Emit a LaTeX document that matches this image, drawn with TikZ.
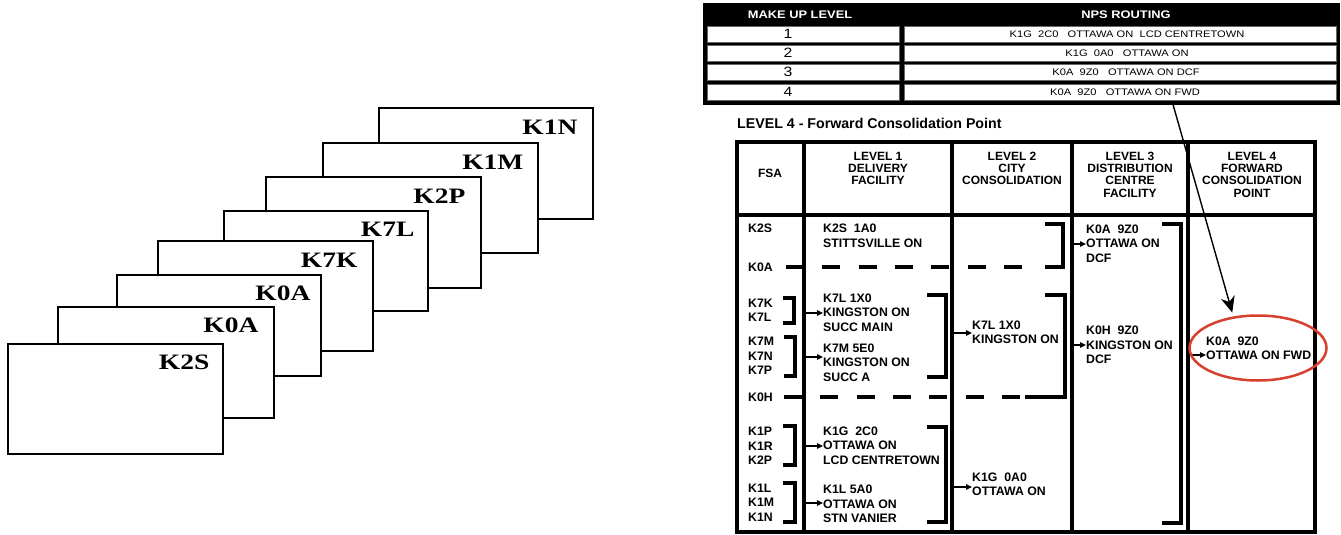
\documentclass[tikz,border=0pt]{standalone}
\usepackage{fontspec}
\setmainfont{Liberation Sans}
\newfontfamily\cardfont[FakeStretch=1.25]{Liberation Serif}
\newfontfamily\widefont[FakeStretch=1.17]{Liberation Sans}
\usetikzlibrary{arrows.meta,shapes.geometric}
\definecolor{circlered}{RGB}{214,64,44}

\begin{document}
\begin{tikzpicture}[x=1pt, y=-1pt, >={Triangle[length=6pt,width=5.5pt]}]
    \tikzset{card/.style={draw, fill=white, line width=1.6pt, anchor=north west, inner sep=0},
        cardname/.style={anchor=base east, inner sep=0, font=\cardfont\bfseries\fontsize{22pt}{22pt}\selectfont},
        toprow/.style={draw=black!60, fill=white, line width=0.6pt},
        tophead/.style={text=white, inner sep=0, font=\widefont\bfseries\fontsize{11pt}{11pt}\selectfont},
        toplevel/.style={inner sep=0, font=\widefont\fontsize{13.5pt}{14pt}\selectfont},
        toproute/.style={inner sep=0, font=\widefont\fontsize{9.5pt}{10pt}\selectfont},
        tabletitle/.style={anchor=west, inner sep=0, font=\bfseries\fontsize{14.2pt}{14pt}\selectfont},
        tablerule/.style={line width=4pt},
        colhead/.style={align=center, inner sep=0, font=\bfseries\fontsize{12pt}{12.3pt}\selectfont},
        celltext/.style={align=left, anchor=west, inner sep=0, font=\bfseries\fontsize{12.3pt}{14.5pt}\selectfont},
        bracket/.style={line width=3.5pt, line join=miter},
        dashline/.style={line width=4pt, dash pattern=on 18pt off 18.3pt},
        feed/.style={->, line width=1.3pt},
        pointer/.style={-{Stealth[length=16pt,width=14pt,inset=5pt]}, line width=1.4pt, shorten >=4pt},
        hilite/.style={ellipse, draw=circlered, line width=2.5pt, minimum width=137pt, minimum height=65pt, inner sep=0}}
    \useasboundingbox (0,0) rectangle (1341,535);

    % stacked FSA cards, back to front
    \node[card, minimum width=214pt, minimum height=111pt] (c1n) at (378,107) {};
    \node[cardname] (t1n) at ([xshift=-16pt,yshift=-27pt]c1n.north east) {K1N};
    \node[card, minimum width=215pt, minimum height=110pt] (c1m) at (322,142) {};
    \node[cardname] (t1m) at ([xshift=-15pt,yshift=-27pt]c1m.north east) {K1M};
    \node[card, minimum width=215pt, minimum height=111pt] (c2p) at (265,176) {};
    \node[cardname] (t2p) at ([xshift=-16pt,yshift=-27pt]c2p.north east) {K2P};
    \node[card, minimum width=204pt, minimum height=100pt] (c7l) at (223,210) {};
    \node[cardname] (t7l) at ([xshift=-14pt,yshift=-26pt]c7l.north east) {K7L};
    \node[card, minimum width=215pt, minimum height=110pt] (c7k) at (157,240) {};
    \node[cardname] (t7k) at ([xshift=-16pt,yshift=-27pt]c7k.north east) {K7K};
    \node[card, minimum width=204pt, minimum height=101pt] (c0b) at (116,274) {};
    \node[cardname] (t0b) at ([xshift=-11pt,yshift=-26pt]c0b.north east) {K0A};
    \node[card, minimum width=216pt, minimum height=111pt] (c0a) at (57,306) {};
    \node[cardname] (t0a) at ([xshift=-16pt,yshift=-26pt]c0a.north east) {K0A};
    \node[card, minimum width=215pt, minimum height=110pt] (c2s) at (7,343) {};
    \node[cardname] (t2s) at ([xshift=-14pt,yshift=-26pt]c2s.north east) {K2S};

    % make up level / NPS routing table
    \fill (703,3) rectangle (1340,105);
    \node[tophead] (mulevel) at (800,15) {MAKE UP LEVEL};
    \node[tophead] (nps) at (1126,15) {NPS ROUTING};
    \draw[toprow] (707,26) rectangle (899,42);
    \draw[toprow] (904,26) rectangle (1336,42);
    \draw[toprow] (707,45) rectangle (899,61);
    \draw[toprow] (904,45) rectangle (1336,61);
    \draw[toprow] (707,64) rectangle (899,80);
    \draw[toprow] (904,64) rectangle (1336,80);
    \draw[toprow] (707,84) rectangle (899,100);
    \draw[toprow] (904,84) rectangle (1336,100);
    \node[toplevel] (lv1) at (788,34) {1};
    \node[toplevel] (lv2) at (788,53) {2};
    \node[toplevel] (lv3) at (788,72) {3};
    \node[toplevel] (lv4) at (788,92) {4};
    \node[toproute] (rt1) at (1127,34.5) {K1G\ \ 2C0\ \ \ OTTAWA ON\ \ LCD CENTRETOWN};
    \node[toproute] (rt2) at (1127,53.5) {K1G\ \ 0A0\ \ \ OTTAWA ON};
    \node[toproute] (rt3) at (1126,72.5) {K0A\ \ 9Z0\ \ \ OTTAWA ON DCF};
    \node[toproute] (rt4) at (1125,92.5) {K0A\ \ 9Z0\ \ \ OTTAWA ON FWD};

    \node[tabletitle] (ttl) at (737,123) {LEVEL 4 - Forward Consolidation Point};

    % consolidation table frame
    \draw[tablerule] (737,142) rectangle (1315,532);
    \draw[tablerule] (737,215) -- (1315,215);
    \draw[tablerule] (804,142) -- (804,532);
    \draw[tablerule] (952,142) -- (952,532);
    \draw[tablerule] (1072,142) -- (1072,532);
    \draw[tablerule] (1188,142) -- (1188,532);

    \node[colhead] (hfsa) at (770,173) {FSA};
    \node[colhead] (hdel) at (878,168.5) {LEVEL 1\\DELIVERY\\FACILITY};
    \node[colhead] (hcity) at (1012,168.5) {LEVEL 2\\CITY\\CONSOLIDATION};
    \node[colhead] (hdist) at (1130,174.5) {LEVEL 3\\DISTRIBUTION\\CENTRE\\FACILITY};
    \node[colhead] (hfwd) at (1252,174.5) {LEVEL 4\\FORWARD\\CONSOLIDATION\\POINT};

    \node[celltext] (fsa1) at (748,228) {K2S};
    \node[celltext] (fsa2) at (748,267) {K0A};
    \node[celltext] (fsa3) at (748,310.5) {K7K\\K7L};
    \node[celltext] (fsa4) at (748,356) {K7M\\K7N\\K7P};
    \node[celltext] (fsa5) at (748,397) {K0H};
    \node[celltext] (fsa6) at (748,446) {K1P\\K1R\\K2P};
    \node[celltext] (fsa7) at (748,502.5) {K1L\\K1M\\K1N};

    \node[celltext] (del1) at (823,236) {K2S~~1A0\\STITTSVILLE ON};
    \node[celltext] (del2) at (823,312.5) {K7L 1X0\\KINGSTON ON\\SUCC MAIN};
    \node[celltext] (del3) at (823,362.5) {K7M 5E0\\KINGSTON ON\\SUCC A};
    \node[celltext] (del4) at (823,445.5) {K1G~~2C0\\OTTAWA ON\\LCD CENTRETOWN};
    \node[celltext] (del5) at (823,504) {K1L 5A0\\OTTAWA ON\\STN VANIER};
    \node[celltext] (city1) at (972,332.5) {K7L 1X0\\KINGSTON ON};
    \node[celltext] (city2) at (972,484.5) {K1G~~0A0\\OTTAWA ON};
    \node[celltext] (dist1) at (1086,243.5) {K0A~~9Z0\\OTTAWA ON\\DCF};
    \node[celltext] (dist2) at (1086,345) {K0H~~9Z0\\KINGSTON ON\\DCF};
    \node[celltext] (fwd) at (1206,348.5) {K0A~~9Z0\\OTTAWA ON FWD};

    % brackets grouping the rows
    \draw[bracket] (783,298) -- (794,298) -- (794,323) -- (783,323);
    \draw[bracket] (784,337) -- (795,337) -- (795,376) -- (784,376);
    \draw[bracket] (783,426) -- (795,426) -- (795,465) -- (783,465);
    \draw[bracket] (783,483) -- (795,483) -- (795,522) -- (783,522);
    \draw[bracket] (927,295) -- (946,295) -- (946,377) -- (927,377);
    \draw[bracket] (927,427) -- (946,427) -- (946,522) -- (927,522);
    \draw[bracket] (1045,224) -- (1063,224) -- (1063,267) -- (1045,267);
    \draw[bracket] (1045,295) -- (1065,295) -- (1065,397) -- (1025,397);
    \draw[bracket] (1162,224) -- (1181,224) -- (1181,523) -- (1162,523);

    \coordinate (k0aend) at (1040,267);
    \coordinate (k0hend) at (1025,397);
    \draw[dashline] ([xshift=13pt]fsa2.east) -- (k0aend);
    \draw[dashline] ([xshift=11pt]fsa5.east) -- (k0hend);

    % feeds into the next level
    \coordinate (f1) at (806,313);
    \coordinate (f2) at (806,357);
    \coordinate (f3) at (806,446);
    \coordinate (f4) at (806,503);
    \coordinate (f5) at (954,333);
    \coordinate (f6) at (954,487);
    \coordinate (f7) at (1074,244);
    \coordinate (f8) at (1074,345);
    \coordinate (f9) at (1190,355);
    \draw[feed] (f1) -- (f1 -| del2.west);
    \draw[feed] (f2) -- (f2 -| del3.west);
    \draw[feed] (f3) -- (f3 -| del4.west);
    \draw[feed] (f4) -- (f4 -| del5.west);
    \draw[feed] (f5) -- (f5 -| city1.west);
    \draw[feed] (f6) -- (f6 -| city2.west);
    \draw[feed] (f7) -- (f7 -| dist1.west);
    \draw[feed] (f8) -- (f8 -| dist2.west);
    \draw[feed] (f9) -- (f9 -| fwd.west);

    \node[hilite] (ring) at (1258,348) {};
    \coordinate (pin) at (1172,101);
    \draw[pointer] (pin) -- (ring.128);
\end{tikzpicture}
\end{document}
